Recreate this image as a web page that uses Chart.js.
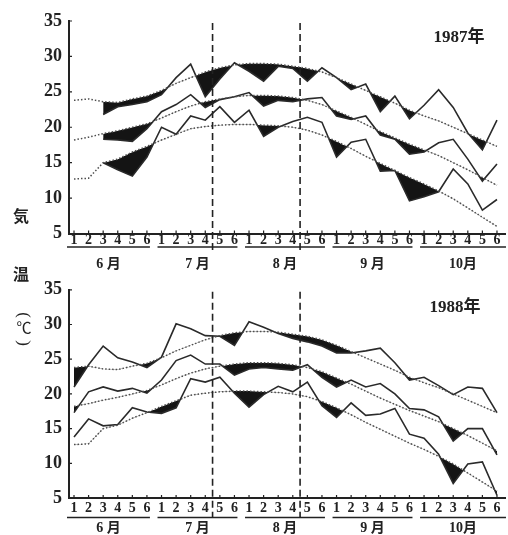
<!DOCTYPE html>
<html>
<head>
<meta charset="utf-8">
<script src="https://cdn.jsdelivr.net/npm/chart.js@4.4.1/dist/chart.umd.min.js"></script>
<style>
  body { margin: 0; background: #fff; }
  #wrap { position: relative; width: 508px; height: 535px; background: #fff; overflow: hidden; }
  canvas { position: absolute; left: 0; }
  .ylab { position: absolute; width: 24px; height: 16px; text-align: center; font-family: "Noto Sans CJK JP", sans-serif; font-weight: 700; font-size: 16px; color: #222; line-height: 16px; }
  .paren { font-family: "Liberation Serif", serif; font-size: 17px; font-weight: 400; transform: rotate(90deg); }
</style>
</head>
<body>
<div id="wrap">
  <canvas id="c1987" width="508" height="275" style="top:0"></canvas>
  <canvas id="c1988" width="508" height="263" style="top:272px"></canvas>
  <div class="ylab" style="left:9px;top:207px">気</div>
  <div class="ylab" style="left:9px;top:265px">温</div>
  <div class="ylab paren" style="left:12px;top:307px">(</div>
  <div class="ylab" style="left:12px;top:319px;font-size:15px;font-weight:400">℃</div>
  <div class="ylab paren" style="left:12px;top:335px">)</div>
</div>
<script>
// 半旬 slots, June to October
const months = ['6 月', '7 月', '8 月', '9 月', '10月'];
const pentads = ['1', '2', '3', '4', '5', '6'];
const slots = months.flatMap((m, i) => pentads.map((p, j) => i * 6 + j));
const yTicks = [5, 10, 15, 20, 25, 30, 35];
const dividers = [9.5, 15.5];

// normals (max / mean / min)
const normMax = [23.8, 24.0, 23.6, 23.5, 24.0, 24.4, 25.2, 26.2, 27.0, 27.8, 28.4, 28.8, 29.0, 29.0, 28.9, 28.6, 28.3, 27.8, 27.0, 26.1, 25.2, 24.3, 23.4, 22.4, 21.6, 20.9, 20.0, 19.1, 18.2, 17.3];
const normMid = [18.2, 18.6, 19.1, 19.5, 20.0, 20.5, 21.3, 22.2, 23.0, 23.6, 24.0, 24.3, 24.5, 24.5, 24.4, 24.2, 23.8, 23.2, 22.3, 21.4, 20.4, 19.4, 18.5, 17.6, 16.8, 16.0, 15.0, 14.0, 12.9, 11.8];
const normMin = [12.7, 12.8, 15.0, 15.5, 16.5, 17.3, 18.2, 19.0, 19.8, 20.1, 20.3, 20.4, 20.4, 20.3, 20.2, 20.0, 19.6, 18.9, 18.0, 17.0, 15.9, 14.9, 13.9, 12.9, 12.0, 11.0, 9.9, 8.6, 7.3, 6.0];

const max1987 = [null, null, 21.8, 22.9, 23.2, 23.6, 24.6, 27.0, 28.9, 24.3, 26.8, 29.1, 27.9, 26.5, 28.6, 28.3, 26.5, 28.4, 27.0, 25.3, 26.1, 22.2, 24.4, 21.2, 23.1, 25.3, 22.8, 19.2, 16.8, 21.0];
const mid1987 = [null, null, 18.3, 18.2, 18.0, 19.8, 22.2, 23.2, 24.6, 22.8, 23.9, 24.3, 24.9, 23.0, 23.8, 23.6, 24.0, 24.2, 21.6, 21.1, 21.6, 18.9, 18.3, 16.2, 16.5, 17.8, 18.3, 15.5, 12.4, 14.8];
const min1987 = [null, null, 15.0, 14.0, 13.1, 15.8, 20.0, 19.0, 21.6, 21.0, 22.9, 20.7, 22.4, 18.7, 20.0, 20.8, 21.4, 20.7, 15.8, 17.9, 18.3, 13.8, 13.9, 9.6, 10.2, 10.9, 14.1, 12.0, 8.3, 9.8];

const max1988 = [21.0, 24.2, 26.9, 25.2, 24.6, 23.8, 25.3, 30.1, 29.4, 28.4, 28.3, 27.0, 30.4, 29.6, 28.7, 28.0, 27.5, 26.9, 25.9, 25.9, 26.2, 26.6, 24.5, 22.0, 22.4, 21.2, 19.9, 21.0, 20.8, 17.3];
const mid1988 = [17.3, 20.3, 21.0, 20.4, 20.8, 20.1, 22.0, 24.8, 25.6, 24.3, 24.3, 22.7, 23.6, 23.8, 23.6, 23.4, 24.2, 22.4, 21.0, 22.0, 21.0, 21.5, 20.0, 17.9, 17.7, 16.7, 13.2, 15.0, 15.0, 11.2];
const min1988 = [13.8, 16.4, 15.4, 15.6, 18.0, 17.4, 17.2, 18.0, 22.2, 21.7, 22.4, 20.1, 18.1, 19.9, 21.1, 20.3, 21.7, 18.3, 16.6, 18.7, 16.9, 17.1, 17.9, 14.2, 13.6, 11.3, 7.1, 9.9, 10.2, 5.4];

// axis ticks, dashed dividers, month rules and the year tag
const decor = {
  id: 'decor',
  afterDraw(chart, args, o) {
    const { ctx, chartArea: a, scales: { x, y } } = chart;
    ctx.save();
    ctx.strokeStyle = '#222';
    ctx.fillStyle = '#222';
    ctx.lineWidth = 1.2;
    ctx.beginPath();
    slots.forEach(v => {
      const px = x.getPixelForValue(v);
      ctx.moveTo(px, a.bottom);
      ctx.lineTo(px, a.bottom - 3);
    });
    yTicks.forEach(v => {
      const py = y.getPixelForValue(v);
      ctx.moveTo(a.left, py);
      ctx.lineTo(a.left + 3, py);
    });
    ctx.stroke();

    ctx.lineWidth = 1.6;
    ctx.setLineDash([7, 4]);
    ctx.beginPath();
    dividers.forEach(v => {
      const px = x.getPixelForValue(v);
      ctx.moveTo(px, a.top + 2);
      ctx.lineTo(px, o.divBottom);
    });
    ctx.stroke();
    ctx.setLineDash([]);

    ctx.lineWidth = 1.5;
    ctx.font = 'bold 14px "Liberation Serif", "Noto Sans CJK JP"';
    ctx.textAlign = 'center';
    ctx.textBaseline = 'middle';
    months.forEach((m, i) => {
      const x0 = i === 0 ? a.left - 2 : x.getPixelForValue(i * 6) - 4;
      const x1 = x.getPixelForValue(i * 6 + 5) + (i === 4 ? 9 : 3);
      ctx.beginPath();
      ctx.moveTo(x0, o.ruleY);
      ctx.lineTo(x1, o.ruleY);
      ctx.stroke();
      ctx.fillText(m, (x0 + x1) / 2, o.monthY);
    });

    ctx.font = 'bold 17px "Liberation Serif", "Noto Sans CJK JP"';
    ctx.fillText(o.year, o.yearX, o.yearY);
    ctx.restore();
  }
};

function makeChart(id, year, maxV, midV, minV, o) {
  const line = (data, normal, target) => ({
    data,
    borderColor: normal ? '#4d4d4d' : '#2a2a2a',
    borderWidth: normal ? 1.5 : 1.6,
    borderDash: normal ? [1.5, 2] : [],
    pointRadius: 0,
    tension: 0,
    fill: normal ? false : { target, above: 'rgba(0,0,0,0)', below: '#141414' }
  });
  return new Chart(document.getElementById(id), {
    type: 'line',
    data: {
      labels: slots,
      datasets: [
        line(normMax, true), line(normMid, true), line(normMin, true),
        line(maxV, false, 0), line(midV, false, 1), line(minV, false, 2)
      ]
    },
    options: {
      responsive: false,
      animation: false,
      events: [],
      layout: { padding: { top: o.top, left: 0, right: 3, bottom: 0 } },
      plugins: {
        legend: { display: false },
        tooltip: { enabled: false },
        decor: Object.assign({ year }, o)
      },
      scales: {
        x: {
          type: 'linear',
          min: -0.343,
          max: 29.55,
          afterBuildTicks: s => { s.ticks = slots.map(v => ({ value: v })); },
          afterFit: s => { s.height = o.axisH; },
          grid: { display: false, drawTicks: false },
          border: { display: true, color: '#222', width: 2 },
          ticks: {
            autoSkip: false,
            maxRotation: 0,
            padding: o.tickPad,
            color: '#222',
            font: { family: 'Liberation Serif', size: 14, weight: 'bold', lineHeight: 1 },
            callback: v => pentads[v % 6]
          }
        },
        y: {
          min: 5,
          max: 35,
          afterBuildTicks: s => { s.ticks = yTicks.map(v => ({ value: v })); },
          afterFit: s => { s.width = 69; },
          grid: { display: false, drawTicks: false },
          border: { display: true, color: '#222', width: 2 },
          ticks: {
            padding: 7,
            color: '#222',
            font: { family: 'Liberation Serif', size: 18, weight: 'bold' }
          }
        }
      }
    },
    plugins: [decor]
  });
}

makeChart('c1987', '1987年', max1987, mid1987, min1987,
  { top: 21, axisH: 41.5, tickPad: 0, ruleY: 247, monthY: 264, yearX: 459, yearY: 38, divBottom: 253 });
makeChart('c1988', '1988年', max1988, mid1988, min1988,
  { top: 13, axisH: 37, tickPad: 3, ruleY: 245.5, monthY: 256.5, yearX: 455, yearY: 36, divBottom: 246 });
</script>
</body>
</html>
